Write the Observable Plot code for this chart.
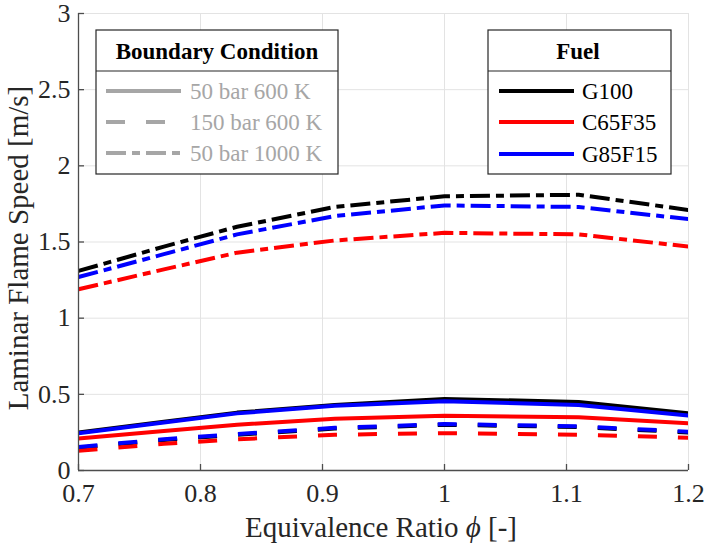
<!DOCTYPE html>
<html>
<head>
<meta charset="utf-8">
<script src="https://cdn.jsdelivr.net/npm/d3@7"></script>
<script src="https://cdn.jsdelivr.net/npm/@observablehq/plot@0.6"></script>
<style>
  html, body { margin: 0; padding: 0; background: #fff; }
  #chart svg { display: block; }
</style>
</head>
<body>
<div id="chart"></div>
<script>
// ---- data ----
const phi = [0.7, 0.77, 0.83, 0.91, 1.0, 1.11, 1.2];
const fuels = ["G100", "C65F35", "G85F15"];
const fuelColors = ["#000000", "#ff0000", "#0000ff"];
const conditions = ["50 bar 600 K", "150 bar 600 K", "50 bar 1000 K"];
const conditionDash = ["none", "19,21", "20,6,8,6"];
const xTicks = [0.7, 0.8, 0.9, 1.0, 1.1, 1.2];
const yTicks = [0, 0.5, 1, 1.5, 2, 2.5, 3];

// 50 bar 600 K
const g100_50_600 = [0.25, 0.32, 0.38, 0.43, 0.47, 0.45, 0.375];
const c65_50_600  = [0.21, 0.26, 0.30, 0.34, 0.36, 0.35, 0.31];
const g85_50_600  = [0.245, 0.315, 0.375, 0.425, 0.455, 0.43, 0.36];
// 150 bar 600 K
const g100_150_600 = [0.15, 0.20, 0.235, 0.275, 0.30, 0.285, 0.25];
const c65_150_600  = [0.13, 0.175, 0.205, 0.235, 0.245, 0.235, 0.215];
const g85_150_600  = [0.155, 0.205, 0.24, 0.28, 0.305, 0.29, 0.255];
// 50 bar 1000 K
const g100_50_1000 = [1.31, 1.47, 1.60, 1.73, 1.80, 1.81, 1.71];
const c65_50_1000  = [1.19, 1.32, 1.43, 1.51, 1.56, 1.55, 1.47];
const g85_50_1000  = [1.27, 1.42, 1.55, 1.67, 1.74, 1.73, 1.65];

const seriesByCondition = [
  [g100_50_600, c65_50_600, g85_50_600],
  [g100_150_600, c65_150_600, g85_150_600],
  [g100_50_1000, c65_50_1000, g85_50_1000]
];

function rowsFor(ci) {
  const rows = [];
  seriesByCondition[ci].forEach((vals, fi) => {
    vals.forEach((v, i) => rows.push({phi: phi[i], speed: v, fuel: fuels[fi]}));
  });
  return rows;
}

const W = 706, H = 547;
const mL = 78, mR = 18, mT = 13, mB = 77;
const fontFam = "'Liberation Serif', 'Times New Roman', serif";
const axisColor = "#4d4d4d";

const lineMarks = [2, 0, 1].map(ci => Plot.line(rowsFor(ci), {
  x: "phi", y: "speed", z: "fuel", stroke: "fuel",
  strokeWidth: 4, strokeDasharray: conditionDash[ci] === "none" ? null : conditionDash[ci],
  strokeLinejoin: "round", strokeLinecap: "butt", clip: true
}));

const chart = Plot.plot({
  width: W, height: H,
  marginLeft: mL, marginRight: mR, marginTop: mT, marginBottom: mB,
  style: {fontFamily: fontFam, fontSize: "26px", color: "#262626", background: "#fff"},
  x: {domain: [0.7, 1.2], label: null},
  y: {domain: [0, 3], label: null},
  color: {domain: fuels, range: fuelColors},
  marks: [
    Plot.gridX(xTicks, {stroke: "#e3e3e3", strokeOpacity: 1, strokeWidth: 1}),
    Plot.gridY(yTicks, {stroke: "#e3e3e3", strokeOpacity: 1, strokeWidth: 1}),
    ...lineMarks,
    Plot.ruleX([0.7], {stroke: axisColor, strokeWidth: 1.3}),
    Plot.ruleY([0], {stroke: axisColor, strokeWidth: 1.3}),
    Plot.tickX(xTicks, {x: d => d, stroke: axisColor, strokeWidth: 1.3, insetTop: H - mT - mB - 6}),
    Plot.tickY(yTicks, {y: d => d, stroke: axisColor, strokeWidth: 1.3, insetRight: W - mL - mR - 6}),
    Plot.axisX(xTicks, {tickSize: 0, tickPadding: 13, tickFormat: d => String(d), fill: "#262626", fontSize: 26, label: null}),
    Plot.axisY(yTicks, {tickSize: 0, tickPadding: 8, tickFormat: d => String(d), fill: "#262626", fontSize: 26, label: null})
  ]
});

document.getElementById("chart").appendChild(chart);

const svg = d3.select(chart);

// axis labels
const xl = svg.append("text")
  .attr("x", 381).attr("y", 537)
  .attr("text-anchor", "middle")
  .style("font-family", fontFam).style("font-size", "29px").attr("fill", "#262626");
xl.append("tspan").text("Equivalence Ratio ");
xl.append("tspan").style("font-style", "italic").text("ϕ");
xl.append("tspan").text(" [-]");

svg.append("text")
  .attr("transform", `translate(28,248) rotate(-90)`)
  .attr("text-anchor", "middle")
  .style("font-family", fontFam).style("font-size", "29px").attr("fill", "#262626")
  .text("Laminar Flame Speed [m/s]");

// legends
function drawLegend(x0, y0, w, h, sepY, title, titleX, lineX0, lineX1, textX, rowYs, items) {
  const g = svg.append("g");
  g.append("rect").attr("x", x0).attr("y", y0).attr("width", w).attr("height", h)
    .attr("fill", "#fff").attr("stroke", "#262626").attr("stroke-width", 1.2);
  g.append("line").attr("x1", x0).attr("x2", x0 + w).attr("y1", sepY).attr("y2", sepY)
    .attr("stroke", "#262626").attr("stroke-width", 1.2);
  g.append("text").attr("x", titleX).attr("y", (y0 + sepY) / 2 + 8)
    .attr("text-anchor", "middle").style("font-family", fontFam)
    .style("font-size", "23px").style("font-weight", "bold").attr("fill", "#000")
    .text(title);
  items.forEach((it, i) => {
    const y = rowYs[i];
    g.append("line").attr("x1", lineX0).attr("x2", lineX1).attr("y1", y).attr("y2", y)
      .attr("stroke", it.color).attr("stroke-width", 4)
      .attr("stroke-dasharray", it.dash === "none" ? null : it.dash);
    g.append("text").attr("x", textX).attr("y", y + 8)
      .attr("text-anchor", "start")
      .style("font-family", fontFam).style("font-size", "23px")
      .attr("fill", it.textColor).text(it.label);
  });
}

drawLegend(96, 30, 242, 144, 71, "Boundary Condition", 217, 106, 181, 190, [91, 122, 153],
  conditions.map((c, i) => ({label: c, color: "#a6a6a6", textColor: "#a6a6a6", dash: conditionDash[i]})));

drawLegend(488, 30, 183, 144, 71, "Fuel", 578, 499, 574, 582, [91, 122, 154],
  fuels.map((f, i) => ({label: f, color: fuelColors[i], textColor: "#000", dash: "none"})));
</script>
</body>
</html>
